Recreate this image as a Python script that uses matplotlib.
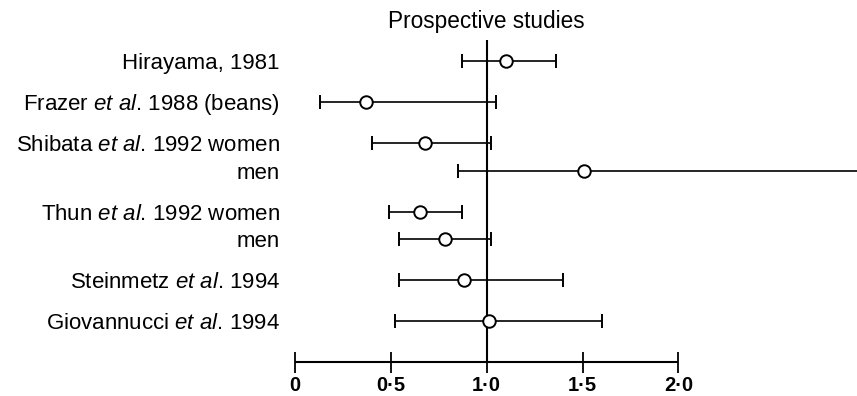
import numpy as np
import matplotlib
matplotlib.use("Agg")
import matplotlib.pyplot as plt
from matplotlib.transforms import offset_copy

plt.rcParams['font.family'] = ['Liberation Sans', 'DejaVu Sans']
plt.rcParams['mathtext.fontset'] = 'custom'
plt.rcParams['mathtext.rm'] = 'Liberation Sans'
plt.rcParams['mathtext.it'] = 'Liberation Sans:italic'

# ---- data ----
studies = ["Hirayama, 1981",
           r"Frazer $\mathit{et\ al}$. 1988 (beans)",
           r"Shibata $\mathit{et\ al}$. 1992 women",
           "men",
           r"Thun $\mathit{et\ al}$. 1992 women",
           "men",
           r"Steinmetz $\mathit{et\ al}$. 1994",
           r"Giovannucci $\mathit{et\ al}$. 1994"]
paired_with_previous = [False, False, False, True, False, True, False, False]
rr    = [1.10, 0.37, 0.68, 1.51, 0.65, 0.78, 0.88, 1.01]
lower = [0.87, 0.13, 0.40, 0.85, 0.49, 0.54, 0.54, 0.52]
upper = [1.36, 1.05, 1.02, 3.40, 0.87, 1.02, 1.40, 1.60]
tick_values = [0, 0.5, 1.0, 1.5, 2.0]
tick_labels = ["0", "0\u00b75", "1\u00b70", "1\u00b75", "2\u00b70"]
title = "Prospective studies"
reference_value = 1.0

# ---- layout ----
W, H = 857, 396
fig = plt.figure(figsize=(W / 100, H / 100), dpi=100)
ax = fig.add_axes([0, 0, 1, 1])
ax.set_axis_off()

x0_px, unit_px = 295.0, 191.7        # pixel of x=0, pixels per unit
row0_px, row_px = 60.7, 41.0         # pixel of first row, pixels per row unit
ax.set_xlim(-x0_px / unit_px, (W - x0_px) / unit_px)
ax.set_ylim((H - row0_px) / row_px, -row0_px / row_px)

pos = []
y = 0.0
for i, p in enumerate(paired_with_previous):
    if i > 0:
        y += 0.68 if p else 1.0
    pos.append(y)
pos = np.array(pos)
axis_y = pos[-1] + 1.0

rr_a = np.array(rr)
err = [rr_a - np.array(lower), np.array(upper) - rr_a]

# reference line
ax.vlines(reference_value, pos[0] - 0.5, axis_y, color='black', lw=1.5, zorder=1)

ax.errorbar(rr_a, pos, xerr=err, fmt='o', mfc='white', mec='black', mew=1.4,
            ms=9, ecolor='black', elinewidth=1.2, capsize=5, capthick=1.2, zorder=3)

# bottom scale
ax.hlines(axis_y, tick_values[0], tick_values[-1], color='black', lw=1.5)
ax.vlines(tick_values, axis_y - 0.25, axis_y + 0.25, color='black', lw=1.3)
for tv, tl in zip(tick_values, tick_labels):
    ax.text(tv, axis_y + 0.69, tl, ha='center', va='baseline', fontsize=14.5,
            fontweight='bold')

# study labels
lab_fs = 16
lab_tr = offset_copy(ax.transData, fig=fig, x=-15,
                     y=-lab_fs * 100 / 72 * 0.716 / 2, units='dots')
for p, s in zip(pos, studies):
    ax.text(0, p, s, ha='right', va='baseline', fontsize=lab_fs,
            transform=lab_tr)

ax.text(1.0, pos[0] - 0.80, title, ha='center', va='baseline', fontsize=16.3)

fig.savefig("out.png", dpi=100)
